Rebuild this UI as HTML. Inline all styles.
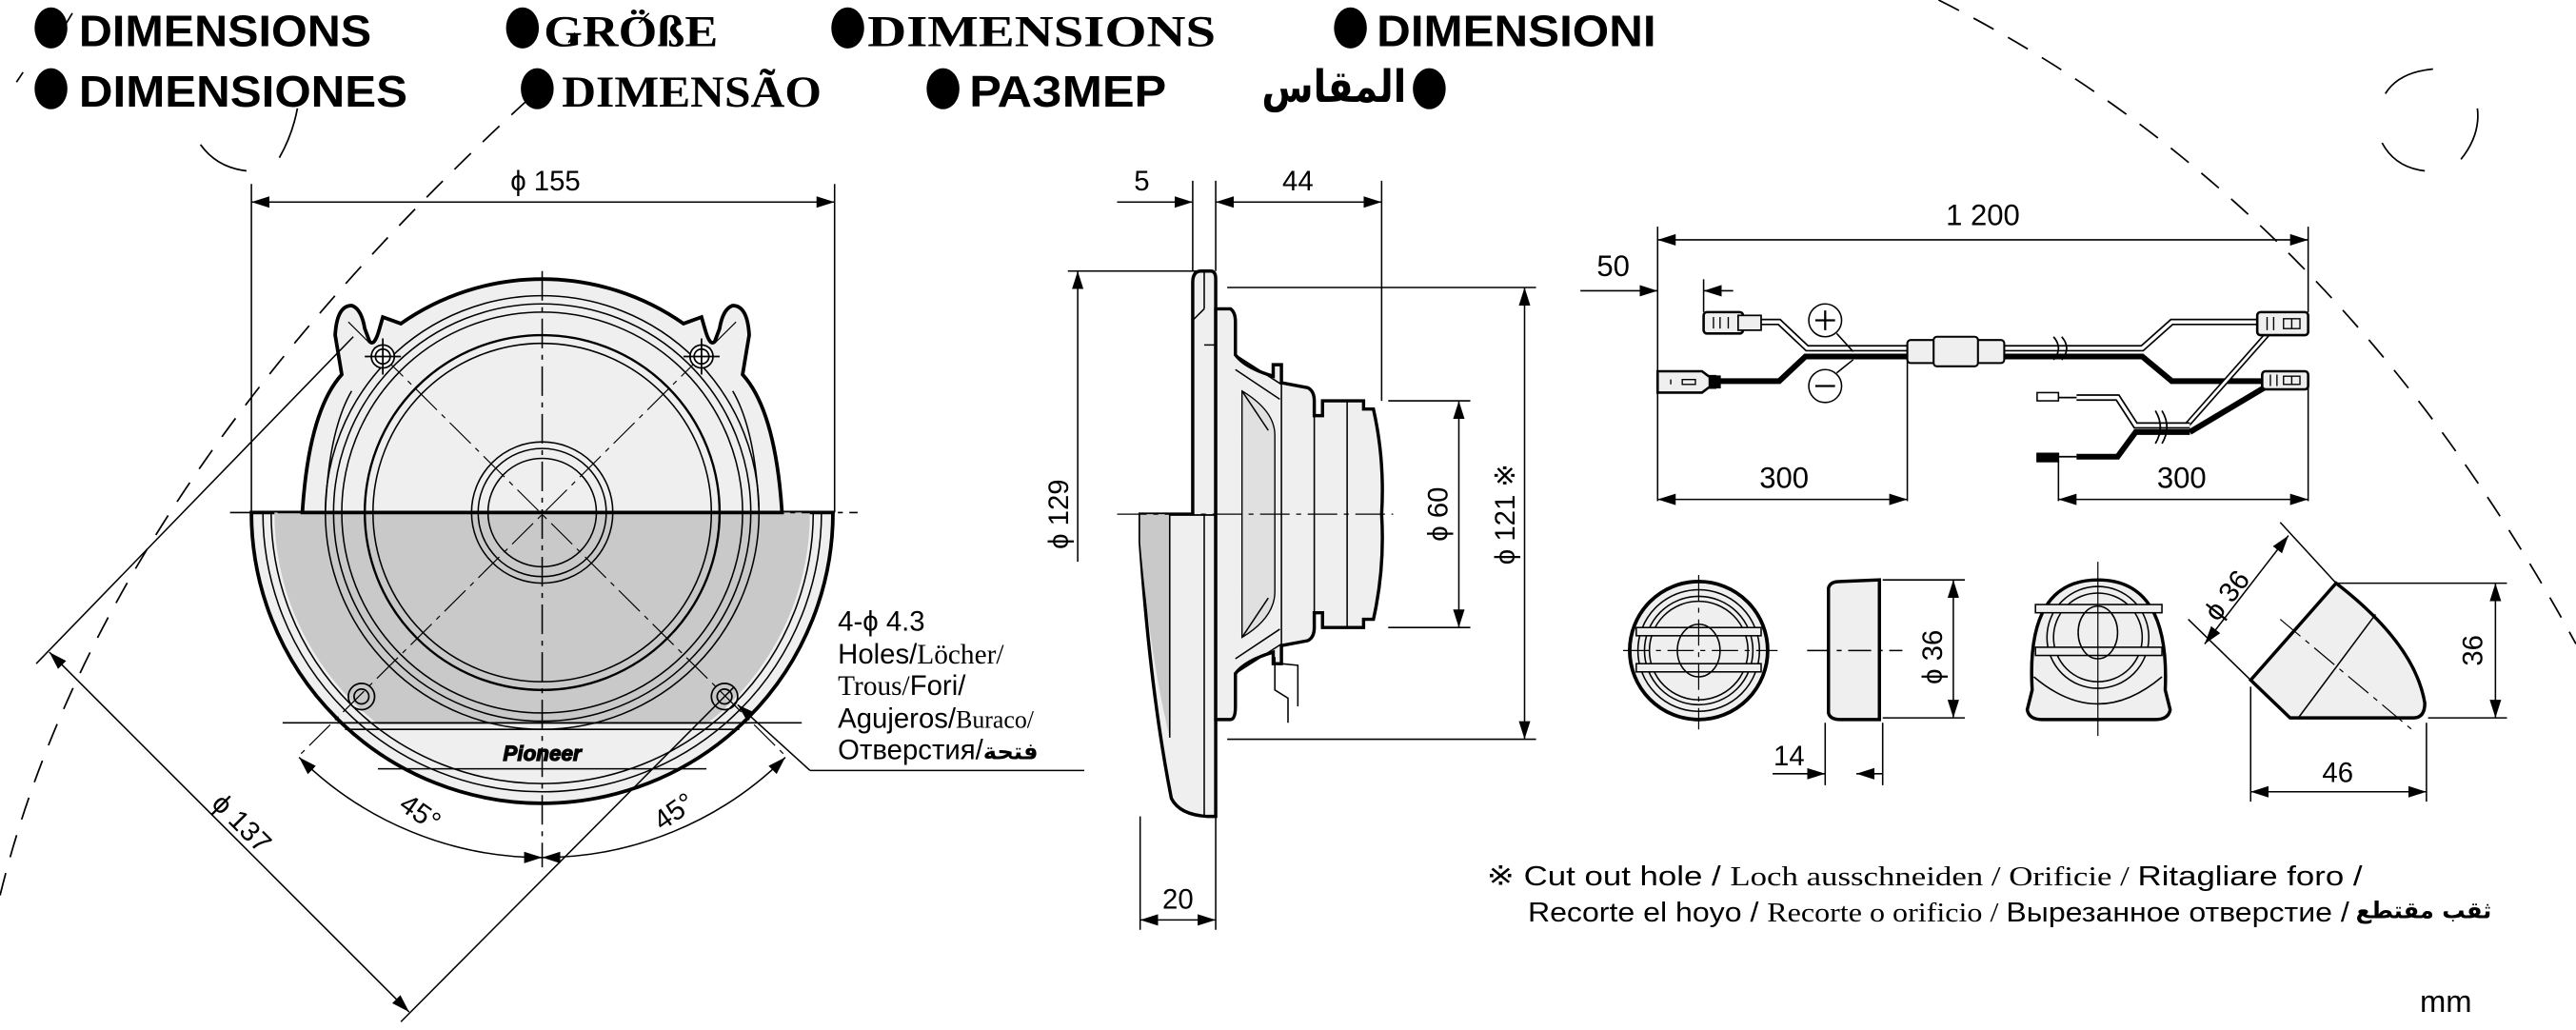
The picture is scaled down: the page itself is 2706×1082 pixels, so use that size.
<!DOCTYPE html>
<html><head><meta charset="utf-8"><style>
html,body{margin:0;padding:0;background:#fff}
svg{display:block}
text{font-family:"Liberation Sans","DejaVu Sans","Noto Sans CJK SC",sans-serif;fill:#000}
.sf{font-family:"Liberation Serif","DejaVu Serif",serif}
</style></head><body>
<svg width="2706" height="1082" viewBox="0 0 1568 627" xmlns="http://www.w3.org/2000/svg">
<defs>
<marker id="a" markerUnits="userSpaceOnUse" markerWidth="12" markerHeight="8" refX="11" refY="3.5" orient="auto-start-reverse" viewBox="0 0 12 7"><path d="M0,0 L11,3.5 L0,7 Z" fill="#000"/></marker>
<clipPath id="gclip"><rect x="140" y="312" width="400" height="129"/></clipPath>
</defs>
<g fill="none" stroke="#000" stroke-width="0.9">

<!-- headings -->
<g stroke="none">
<g fill="#000">
<ellipse cx="31" cy="17" rx="10" ry="12.5"/><ellipse cx="318" cy="17" rx="10" ry="12.5"/><ellipse cx="516" cy="17" rx="10" ry="12.5"/><ellipse cx="822" cy="17" rx="10" ry="12.5"/>
<ellipse cx="31" cy="54" rx="10" ry="12.5"/><ellipse cx="327" cy="54" rx="10" ry="12.5"/><ellipse cx="574" cy="54" rx="10" ry="12.5"/><ellipse cx="870" cy="54" rx="10" ry="12.5"/>
</g>
<text x="48" y="28" font-size="27" font-weight="bold" textLength="178" lengthAdjust="spacingAndGlyphs">DIMENSIONS</text>
<text x="331" y="28" font-size="27" font-weight="bold" class="sf" textLength="106" lengthAdjust="spacingAndGlyphs">GRÖßE</text>
<text x="528" y="28" font-size="27" font-weight="bold" class="sf" textLength="212" lengthAdjust="spacingAndGlyphs">DIMENSIONS</text>
<text x="838" y="28" font-size="27" font-weight="bold" textLength="170" lengthAdjust="spacingAndGlyphs">DIMENSIONI</text>
<text x="48" y="65" font-size="27" font-weight="bold" textLength="200" lengthAdjust="spacingAndGlyphs">DIMENSIONES</text>
<text x="342" y="65" font-size="27" font-weight="bold" class="sf" textLength="158" lengthAdjust="spacingAndGlyphs">DIMENSÃO</text>
<text x="590" y="65" font-size="27" font-weight="bold" textLength="120" lengthAdjust="spacingAndGlyphs">РАЗМЕР</text>
<text x="768" y="62" font-size="27" font-weight="bold" style="font-family:'DejaVu Sans',sans-serif" textLength="88" lengthAdjust="spacingAndGlyphs">المقاس</text>
</g>

<!-- dashed arcs -->
<path d="M0,545 Q60,300 322,60" stroke-dasharray="14,10" stroke-width="1"/>
<path d="M1180,0 Q1420,120 1568,392" stroke-dasharray="14,10" stroke-width="1"/>
<path d="M122,88 Q132,102 150,104" stroke-width="1"/>
<path d="M170,96 Q178,82 181,66" stroke-width="1"/>
<path d="M1481,42 Q1460,44 1452,57" stroke-width="1"/>
<path d="M1508,66 Q1510,82 1498,97" stroke-width="1"/>
<path d="M1450,87 Q1458,102 1476,104" stroke-width="1"/>
<path d="M10,50 L14,44 M44,8 L38,18 M350,20 L346,26 M395,8 L389,14" stroke-width="1"/>

<!-- FRONT VIEW -->
<path d="M153,312 A177,177 0 0 0 507,312 Z" fill="#efefef" stroke-width="2.2"/>
<path d="M160,312 A170,170 0 0 0 500,312" />
<path d="M165,312 A165,165 0 0 0 495,312" />
<circle cx="330" cy="312" r="163" fill="#c9c9c9" stroke="none" clip-path="url(#gclip)"/>
<line x1="172" y1="440" x2="488" y2="440" clip-path="url(#gclip)"/>
<path d="M205,440 L455,440 M210,444 L450,444 M230,468 L430,468" />
<path d="M184,312 Q188,250 208,228 L204,204 Q205,186 214,186 Q220,188 222,200 L225,208 Q228,211 231,200 L233,193 L244,197 A150,150 0 0 1 416,197 L427,193 L429,200 Q432,211 435,208 L438,200 Q440,188 446,186 Q455,186 456,204 L452,228 Q472,250 476,312 Z" fill="#efefef" stroke-width="2.2"/>
<path d="M198,312 Q200,262 214,238 M462,312 Q460,262 446,238"/>
<circle cx="330" cy="312" r="132"/>
<circle cx="330" cy="312" r="127"/>
<circle cx="330" cy="312" r="122"/>
<circle cx="330" cy="312" r="108" stroke-width="1.4"/>
<circle cx="330" cy="312" r="103"/>
<circle cx="330" cy="312" r="43"/>
<circle cx="330" cy="312" r="39"/>
<circle cx="330" cy="312" r="33"/>
<g stroke="none"><text x="330" y="463" font-size="13" font-weight="bold" font-style="italic" text-anchor="middle" fill="#fff" stroke="#000" stroke-width="0.7">Pioneer</text></g>
<!-- center lines -->
<line x1="140" y1="312" x2="522" y2="312" stroke-dasharray="18,4,3,4"/>
<line x1="330" y1="165" x2="330" y2="528" stroke-dasharray="18,4,3,4"/>
<line x1="212" y1="196" x2="478" y2="460" stroke-dasharray="18,4,3,4" stroke-width="0.7"/>
<line x1="448" y1="196" x2="182" y2="460" stroke-dasharray="18,4,3,4" stroke-width="0.7"/>
<!-- holes -->
<g stroke-width="1">
<circle cx="233" cy="217" r="7" fill="#fff"/><circle cx="233" cy="217" r="4.5"/><path d="M222,217 H244 M233,206 V228"/>
<circle cx="427" cy="217" r="7" fill="#fff"/><circle cx="427" cy="217" r="4.5"/><path d="M416,217 H438 M427,206 V228"/>
<circle cx="220" cy="424" r="8"/><circle cx="220" cy="424" r="4.5"/>
<circle cx="441" cy="424" r="8"/><circle cx="441" cy="424" r="4.5"/>
</g>
<!-- phi 155 -->
<path d="M153,112 V312 M508,112 V312"/>
<line x1="153" y1="123" x2="508" y2="123" marker-start="url(#a)" marker-end="url(#a)"/>
<g stroke="none"><text x="332" y="116" font-size="17" text-anchor="middle">ϕ 155</text></g>
<!-- phi 137 -->
<line x1="22" y1="404" x2="215" y2="205"/>
<line x1="244" y1="622" x2="447" y2="418"/>
<line x1="30" y1="397" x2="249" y2="616" marker-start="url(#a)" marker-end="url(#a)"/>
<g stroke="none"><text transform="translate(128,490) rotate(45)" font-size="17">ϕ 137</text></g>
<!-- 45 deg -->
<path d="M182,461 A210,210 0 0 0 330,522" marker-start="url(#a)" marker-end="url(#a)"/>
<path d="M478,461 A210,210 0 0 1 330,522" marker-start="url(#a)" marker-end="url(#a)"/>
<g stroke="none">
<text transform="translate(242,492) rotate(35)" font-size="17">45°</text>
<text transform="translate(403,506) rotate(-35)" font-size="17">45°</text>
</g>
<!-- hole label -->
<path d="M493,469 L660,469"/>
<line x1="493" y1="469" x2="449" y2="429" marker-end="url(#a)"/>
<g stroke="none" font-size="17">
<text x="510" y="384">4-ϕ 4.3</text>
<text x="510" y="404"><tspan>Holes/</tspan><tspan class="sf">Löcher/</tspan></text>
<text x="510" y="423"><tspan class="sf">Trous/</tspan><tspan>Fori/</tspan></text>
<text x="510" y="443"><tspan>Agujeros/</tspan><tspan class="sf" font-size="15">Buraco/</tspan></text>
<text x="510" y="462">Отверстия/<tspan style="font-family:'DejaVu Sans',sans-serif" font-size="14" font-weight="bold">فتحة</tspan></text>
</g>

<!-- SIDE VIEW -->
<path d="M694,313 L694,330 Q700,420 713,486 Q718,496 735,497 L740,497 L740,313 Z" fill="#efefef" stroke-width="2"/>
<path d="M694,313 L694,330 Q700,400 712,449 L712,313 Z" fill="#c9c9c9" stroke="none"/>
<path d="M712,313 V449 M733,313 V497"/>
<path d="M726,313 V172 Q726,165 731,165 L737,165 Q740,165 740,170 V313" fill="#efefef" stroke-width="2"/>
<path d="M733,165 V188 M726,195 L733,188 M733,210 L740,210"/>
<path d="M740,188 L749,188 Q752,190 752,196 L752,216 Q758,224 775,229 L775,222 L780,222 L780,233 L796,236 Q800,238 800,244 L800,253 L805,253 L805,244 L830,244 L830,249 L836,249 Q843,280 841,313 Q843,346 836,377 L830,377 L830,382 L805,382 L805,373 L800,373 L800,382 Q800,388 796,390 L780,393 L780,404 L775,404 L775,397 Q758,402 752,410 L752,430 Q752,438 749,438 L740,438 Z" fill="#efefef" stroke-width="2"/>
<path d="M752,216 L780,234 M752,410 L780,392 M780,234 V392 M752,225 L779,243 M752,401 L779,383"/>
<path d="M756,238 Q776,250 776,265 L776,360 Q776,376 756,388 Z" fill="#e0e0e0" stroke-width="0.8"/>
<path d="M756,238 L772,262 M756,388 L772,364"/>
<path d="M800,253 V373 M820,244 V382"/>
<line x1="680" y1="313" x2="848" y2="313" stroke-dasharray="18,4,3,4" stroke-width="0.7"/>
<path d="M776,400 V420 L784,425 V440 M780,404 L790,405 L790,430"/>
<!-- dims side -->
<path d="M726,110 V165 M740,110 V165 M841,110 V244"/>
<line x1="680" y1="123" x2="726" y2="123" marker-end="url(#a)"/>
<line x1="740" y1="123" x2="841" y2="123" marker-start="url(#a)" marker-end="url(#a)"/>
<g stroke="none" font-size="17"><text x="695" y="116" text-anchor="middle">5</text><text x="790" y="116" text-anchor="middle">44</text></g>
<path d="M650,165 H733"/>
<line x1="656" y1="342" x2="656" y2="165" marker-end="url(#a)"/>
<g stroke="none"><text transform="translate(650,313) rotate(-90)" font-size="17" text-anchor="middle">ϕ 129</text></g>
<path d="M845,244 H895 M845,382 H895"/>
<line x1="888" y1="244" x2="888" y2="382" marker-start="url(#a)" marker-end="url(#a)"/>
<g stroke="none"><text transform="translate(881,313) rotate(-90)" font-size="17" text-anchor="middle">ϕ 60</text></g>
<path d="M747,175 H935 M747,450 H935"/>
<line x1="928" y1="175" x2="928" y2="450" marker-start="url(#a)" marker-end="url(#a)"/>
<g stroke="none"><text transform="translate(922,313) rotate(-90)" font-size="17" text-anchor="middle">ϕ 121 ※</text></g>
<path d="M694,497 V566 M740,497 V566"/>
<line x1="694" y1="560" x2="740" y2="560" marker-start="url(#a)" marker-end="url(#a)"/>
<g stroke="none"><text x="717" y="553" font-size="17" text-anchor="middle">20</text></g>

<!-- WIRING -->
<path d="M1009,138 V305 M1405,138 V190 M1405,236 V305 M1161,219 V305 M1253,280 V305 M1037,170 V190"/>
<line x1="1009" y1="146" x2="1405" y2="146" marker-start="url(#a)" marker-end="url(#a)"/>
<g stroke="none"><text x="1207" y="137" font-size="18" text-anchor="middle">1 200</text><text x="982" y="168" font-size="18" text-anchor="middle">50</text></g>
<line x1="962" y1="177" x2="1009" y2="177" marker-end="url(#a)"/>
<line x1="1055" y1="177" x2="1037" y2="177" marker-end="url(#a)"/>
<line x1="1009" y1="304" x2="1161" y2="304" marker-start="url(#a)" marker-end="url(#a)"/>
<line x1="1253" y1="304" x2="1405" y2="304" marker-start="url(#a)" marker-end="url(#a)"/>
<g stroke="none"><text x="1086" y="297" font-size="18" text-anchor="middle">300</text><text x="1328" y="297" font-size="18" text-anchor="middle">300</text></g>
<!-- wires -->
<path d="M1072,196 L1083,196 L1100,212 L1304,212 L1322,196 L1378,196" stroke="#000" stroke-width="4"/>
<path d="M1072,196 L1083,196 L1100,212 L1304,212 L1322,196 L1378,196" stroke="#fff" stroke-width="2"/>
<path d="M1044,232 L1083,232 L1099,217 L1304,217 L1322,232 L1378,232" stroke="#000" stroke-width="3.5"/>
<path d="M1385,198 L1331,259" stroke="#000" stroke-width="3.5"/><path d="M1385,198 L1331,259" stroke="#fff" stroke-width="1.6"/>
<path d="M1385,232 L1333,263" stroke="#000" stroke-width="3.5"/>
<path d="M1333,259 L1300,259 L1289,242 L1264,242" stroke="#000" stroke-width="4"/>
<path d="M1333,259 L1300,259 L1289,242 L1264,242" stroke="#fff" stroke-width="2"/>
<path d="M1333,263 L1300,263 L1289,278 L1264,278" stroke="#000" stroke-width="3.5"/>
<path d="M1253,242 H1264 M1253,278 H1264" stroke-width="1"/>
<rect x="1240" y="239" width="13" height="5" fill="#fff"/>
<rect x="1240" y="276" width="13" height="5" fill="#000"/>
<rect x="1161" y="207" width="59" height="14" rx="2" fill="#efefef" stroke-width="1.2"/>
<rect x="1177" y="205" width="27" height="18" rx="2" fill="#efefef" stroke-width="1.2"/>
<path d="M1250,205 Q1256,212 1250,219 M1255,205 Q1261,212 1255,219" stroke-width="1"/>
<path d="M1312,250 Q1318,260 1312,270 M1316,250 Q1322,260 1316,270" stroke-width="1"/>
<!-- connectors -->
<rect x="1037" y="190" width="24" height="13" rx="2" fill="#efefef" stroke-width="1.5"/>
<rect x="1058" y="192" width="14" height="9" fill="#efefef" stroke-width="1"/>
<path d="M1043,193 V200 M1047,193 V200 M1052,193 V200" stroke-width="0.8"/>
<path d="M1009,226 L1036,226 L1040,229 L1044,229 L1044,236 L1040,236 L1036,239 L1009,239 Z" fill="#efefef" stroke-width="1.5"/>
<path d="M1040,229 H1047 V236 H1040" fill="#000"/>
<path d="M1017,231 V234 M1024,231 H1032 V234 H1024 Z" stroke-width="0.8"/>
<rect x="1374" y="190" width="31" height="14" rx="2" fill="#efefef" stroke-width="1.5"/>
<path d="M1380,193 V201 M1384,193 V201 M1390,194 H1400 V200 H1390 Z M1395,194 V200" stroke-width="0.8"/>
<rect x="1377" y="226" width="28" height="11" rx="2" fill="#efefef" stroke-width="1.5"/>
<path d="M1382,228 V235 M1386,228 V235 M1390,229 H1400 V234 H1390 Z M1395,229 V234" stroke-width="0.8"/>
<!-- + - -->
<circle cx="1111" cy="195" r="10" fill="#fff"/>
<path d="M1105,195 H1117 M1111,189 V201" stroke-width="1.3"/>
<path d="M1118,203 L1128,214"/>
<circle cx="1111" cy="235" r="10" fill="#fff"/>
<path d="M1105,235 H1117" stroke-width="1.3"/>
<path d="M1118,227 L1128,219"/>

<!-- TWEETERS -->
<circle cx="1034" cy="396" r="42" fill="#efefef" stroke-width="2.2"/>
<circle cx="1034" cy="396" r="37"/><circle cx="1034" cy="396" r="33"/><circle cx="1034" cy="396" r="30"/>
<rect x="996" y="382" width="76" height="5" fill="#efefef"/>
<rect x="996" y="404" width="76" height="5" fill="#efefef"/>
<ellipse cx="1034" cy="396" rx="13" ry="16"/>
<path d="M988,396 H1082 M1034,350 V444" stroke-dasharray="16,4,3,4" stroke-width="0.7"/>
<path d="M1113,358 Q1114,354 1120,354 L1144,353 L1144,438 L1120,438 Q1114,438 1113,434 Z" fill="#efefef" stroke-width="2"/>
<path d="M1100,396 H1158" stroke-dasharray="14,4,3,4"/>
<path d="M1146,353 H1196 M1146,437 H1196 M1111,440 V478 M1146,440 V478"/>
<line x1="1189" y1="353" x2="1189" y2="437" marker-start="url(#a)" marker-end="url(#a)"/>
<g stroke="none"><text transform="translate(1182,400) rotate(-90)" font-size="17" text-anchor="middle">ϕ 36</text></g>
<line x1="1079" y1="471" x2="1111" y2="471" marker-end="url(#a)"/>
<line x1="1146" y1="471" x2="1130" y2="471" marker-end="url(#a)"/>
<g stroke="none"><text x="1089" y="466" font-size="17" text-anchor="middle">14</text></g>
<path d="M1237,420 Q1233,353 1277,353 Q1321,353 1318,420 L1321,432 Q1320,438 1312,438 L1243,438 Q1235,438 1234,432 Z" fill="#efefef" stroke-width="2"/>
<circle cx="1277" cy="388" r="31"/><circle cx="1277" cy="388" r="27"/>
<rect x="1239" y="368" width="77" height="5" fill="#efefef"/>
<rect x="1239" y="394" width="77" height="5" fill="#efefef"/>
<ellipse cx="1277" cy="385" rx="12" ry="16"/>
<path d="M1238,412 Q1277,445 1316,412"/>
<path d="M1277,342 V448" stroke-width="0.7"/>
<path d="M1422,355 Q1470,392 1476,428 Q1476,437 1469,437 L1394,437 L1370,414 Z" fill="#efefef" stroke-width="2"/>
<path d="M1446,374 L1399,437"/>
<path d="M1388,377 L1468,444" stroke-dasharray="16,4,3,4" stroke-width="0.7"/>
<path d="M1422,355 H1526 M1478,437 H1526 M1422,355 L1388,318 M1370,414 L1332,377 M1370,418 V488 M1477,440 V488"/>
<line x1="1519" y1="355" x2="1519" y2="437" marker-start="url(#a)" marker-end="url(#a)"/>
<g stroke="none"><text transform="translate(1511,396) rotate(-90)" font-size="17" text-anchor="middle">36</text></g>
<line x1="1370" y1="482" x2="1477" y2="482" marker-start="url(#a)" marker-end="url(#a)"/>
<g stroke="none"><text x="1423" y="476" font-size="17" text-anchor="middle">46</text></g>
<line x1="1342" y1="392" x2="1393" y2="326" marker-start="url(#a)" marker-end="url(#a)"/>
<g stroke="none"><text transform="translate(1360,366) rotate(-52)" font-size="17" text-anchor="middle">ϕ 36</text></g>

<!-- footnote -->
<g stroke="none" font-size="16.5">
<text x="905" y="539" textLength="533" lengthAdjust="spacingAndGlyphs">※ Cut out hole / <tspan class="sf">Loch ausschneiden / Orificie / </tspan>Ritagliare foro /</text>
<text x="930" y="561" textLength="500" lengthAdjust="spacingAndGlyphs">Recorte el hoyo / <tspan class="sf">Recorte o orificio / </tspan>Вырезанное отверстие /</text>
<text x="1434" y="559" font-size="14" font-weight="bold" style="font-family:'DejaVu Sans',sans-serif">ثقب مقتطع</text>
<text x="1473" y="616" font-size="19">mm</text>
</g>
</g>
</svg>
</body></html>
